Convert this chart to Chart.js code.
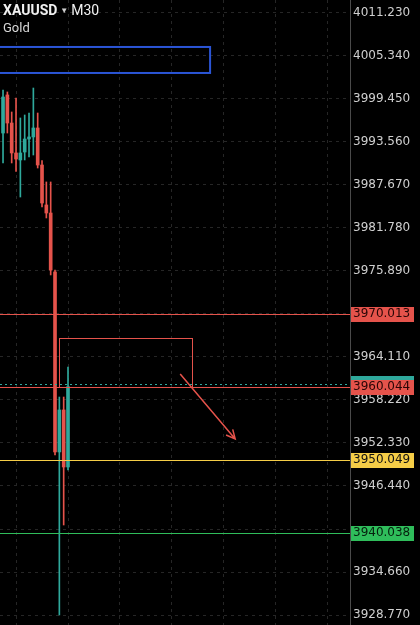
<!DOCTYPE html>
<html>
<head>
<meta charset="utf-8">
<script src="https://cdn.jsdelivr.net/npm/chart.js@4.4.0/dist/chart.umd.min.js"></script>
<style>
  html, body { margin: 0; padding: 0; background: #000; }
  #wrap { position: relative; width: 420px; height: 625px; }
  #head { position: absolute; left: 3px; top: 2px; font-family: Roboto, "Noto Sans", sans-serif; color: #f0f0f0; }
  #head .sym { font-size: 14px; line-height: 16px; }
  #head .sym b { font-weight: 700; }
  #head .tri { font-size: 8px; color: #cfcfcf; margin: 0 3px; vertical-align: 2px; }
  #head .sub { font-size: 13px; line-height: 18px; color: #d8d8d8; }
</style>
</head>
<body>
<div id="wrap">
  <canvas id="chart" width="420" height="625"></canvas>
  <div id="head">
    <div class="sym"><b>XAUUSD</b><span class="tri">▼</span>M30</div>
    <div class="sub">Gold</div>
  </div>
</div>
<script>
// M30 candles
const opens  = [3994.76, 3999.97, 3996.13, 3992.03, 3991.07, 3992.16, 3993.94, 3994.22, 3995.45, 3990.38, 3984.91, 3983.81, 3975.74, 3951.10, 3956.85, 3949.04];
const closes = [3999.69, 3996.13, 3992.03, 3991.20, 3992.03, 3993.94, 3994.22, 3995.45, 3990.38, 3985.18, 3983.81, 3976.01, 3951.10, 3956.85, 3949.04, 3960.04];
const highs  = [4000.65, 4000.38, 3997.64, 3999.55, 3996.82, 3997.23, 3997.50, 4000.92, 3997.50, 3991.00, 3988.06, 3988.06, 3976.00, 3958.62, 3958.62, 3962.73];
const lows   = [3990.66, 3994.76, 3990.66, 3989.50, 3986.00, 3991.07, 3991.48, 3991.75, 3989.97, 3984.63, 3983.13, 3975.33, 3950.70, 3928.78, 3941.10, 3948.63];

// price axis
const priceTicks = [4011.23, 4005.34, 3999.45, 3993.56, 3987.67, 3981.78, 3975.89, 3970.00, 3964.11, 3958.22, 3952.33, 3946.44, 3940.55, 3934.66, 3928.77];
const priceMin = 3927.41;
const priceMax = 4012.97;
// time axis (bar index), vertical grid every 12 bars
const timeTicks = [3, 15, 27, 39, 51, 63, 75];
const timeMin = -0.7;
const timeMax = 80.1;

// drawn objects
const levelPrices = [3970.013, 3960.044, 3950.049, 3940.038];
const levelColors = ['#e5534b', '#e5534b', '#f5cd47', '#2fbd5b'];
const levelText   = ['#2a0606', '#2a0606', '#111', '#06200e'];
const bidPrice = 3960.40;
const blueBox = { x0: -5, x1: 47.8, top: 4006.54, bottom: 4002.98 };
const redBox  = { x0: 12.9, x1: 43.6, top: 3966.70, bottom: 3960.044 };
const arrow   = { x0: 40.9, y0: 3961.77, x1: 53.6, y1: 3952.87 };

const UP = '#2fa99c';
const DOWN = '#e5534b';
const candleColors = opens.map((o, i) => closes[i] >= o ? UP : DOWN);

const overlay = {
  id: 'overlay',
  afterDatasetsDraw(chart) {
    const { ctx, chartArea: a, scales: { x, y } } = chart;
    ctx.save();
    ctx.beginPath();
    ctx.rect(a.left, a.top, a.right - a.left, a.bottom - a.top);
    ctx.clip();

    // blue rectangle
    ctx.strokeStyle = '#2b55d6';
    ctx.lineWidth = 2;
    ctx.strokeRect(x.getPixelForValue(blueBox.x0), y.getPixelForValue(blueBox.top),
      x.getPixelForValue(blueBox.x1) - x.getPixelForValue(blueBox.x0),
      y.getPixelForValue(blueBox.bottom) - y.getPixelForValue(blueBox.top));

    // horizontal levels
    ctx.lineWidth = 1;
    levelPrices.forEach((p, i) => {
      const py = Math.round(y.getPixelForValue(p)) + 0.5;
      ctx.strokeStyle = levelColors[i];
      ctx.beginPath();
      ctx.moveTo(a.left, py);
      ctx.lineTo(a.right, py);
      ctx.stroke();
    });

    // bid line, dotted
    const by = Math.round(y.getPixelForValue(bidPrice)) + 0.5;
    ctx.strokeStyle = UP;
    ctx.setLineDash([2, 3]);
    ctx.beginPath();
    ctx.moveTo(a.left, by);
    ctx.lineTo(a.right, by);
    ctx.stroke();
    ctx.setLineDash([]);

    // red rectangle
    ctx.strokeStyle = '#e5534b';
    ctx.lineWidth = 1;
    const rx0 = Math.round(x.getPixelForValue(redBox.x0)) + 0.5;
    const rx1 = Math.round(x.getPixelForValue(redBox.x1)) + 0.5;
    const ry0 = Math.round(y.getPixelForValue(redBox.top)) + 0.5;
    const ry1 = Math.round(y.getPixelForValue(redBox.bottom)) + 0.5;
    ctx.strokeRect(rx0, ry0, rx1 - rx0, ry1 - ry0);

    // arrow
    const ax0 = x.getPixelForValue(arrow.x0), ay0 = y.getPixelForValue(arrow.y0);
    const ax1 = x.getPixelForValue(arrow.x1), ay1 = y.getPixelForValue(arrow.y1);
    const ang = Math.atan2(ay1 - ay0, ax1 - ax0);
    ctx.strokeStyle = '#e5534b';
    ctx.lineWidth = 1.5;
    ctx.beginPath();
    ctx.moveTo(ax0, ay0);
    ctx.lineTo(ax1, ay1);
    ctx.moveTo(ax1 - 10 * Math.cos(ang - 0.45), ay1 - 10 * Math.sin(ang - 0.45));
    ctx.lineTo(ax1, ay1);
    ctx.lineTo(ax1 - 10 * Math.cos(ang + 0.45), ay1 - 10 * Math.sin(ang + 0.45));
    ctx.stroke();
    ctx.restore();
  },
  afterDraw(chart) {
    const { ctx, chartArea: a, scales: { y } } = chart;
    ctx.save();
    ctx.font = '12px "DejaVu Sans"';
    ctx.textBaseline = 'middle';
    // teal bid tag peeking above the red tag
    const by = y.getPixelForValue(bidPrice);
    ctx.fillStyle = UP;
    ctx.fillRect(a.right + 1, Math.round(by - 8), 63, 10);
    levelPrices.forEach((p, i) => {
      const py = y.getPixelForValue(p);
      ctx.fillStyle = levelColors[i];
      ctx.fillRect(a.right + 1, Math.round(py - 7), 63, 15);
      ctx.fillStyle = levelText[i];
      ctx.fillText(p.toFixed(3), a.right + 3, py + 0.5);
    });
    ctx.restore();
  }
};

const ctx = document.getElementById('chart').getContext('2d');
new Chart(ctx, {
  type: 'bar',
  data: {
    datasets: [{
      label: 'body',
      data: opens.map((o, i) => ({ x: i, y: [o, closes[i]] })),
      backgroundColor: candleColors,
      barThickness: 3,
      minBarLength: 1,
      grouped: false,
      order: 0
    }, {
      label: 'wick',
      data: highs.map((h, i) => ({ x: i, y: [lows[i], h] })),
      backgroundColor: candleColors,
      barThickness: 1,
      grouped: false,
      order: 1
    }]
  },
  options: {
    responsive: false,
    animation: false,
    devicePixelRatio: 1,
    layout: { padding: 0 },
    plugins: { legend: { display: false }, tooltip: { enabled: false } },
    scales: {
      x: {
        type: 'linear',
        min: timeMin,
        max: timeMax,
        offset: false,
        afterBuildTicks: s => { s.ticks = timeTicks.map(v => ({ value: v })); },
        afterFit: s => { s.height = 0; s.paddingLeft = 0; s.paddingRight = 0; },
        ticks: { display: false },
        grid: { color: '#262626', drawTicks: false, offset: false },
        border: { display: false, dash: [3, 4] }
      },
      y: {
        position: 'right',
        min: priceMin,
        max: priceMax,
        beginAtZero: false,
        afterBuildTicks: s => { s.ticks = priceTicks.map(v => ({ value: v })); },
        afterFit: s => { s.width = 70; s.paddingTop = 0; s.paddingBottom = 0; },
        ticks: {
          color: '#cfcfcf',
          padding: 3,
          font: { family: 'DejaVu Sans', size: 12 },
          callback: v => levelPrices.some(p => Math.abs(p - v) < 1) ? '' : v.toFixed(3)
        },
        grid: { color: '#262626', drawTicks: false },
        border: { display: true, color: '#4a4a4a', dash: [3, 4] }
      }
    }
  },
  plugins: [overlay]
});
</script>
</body>
</html>
